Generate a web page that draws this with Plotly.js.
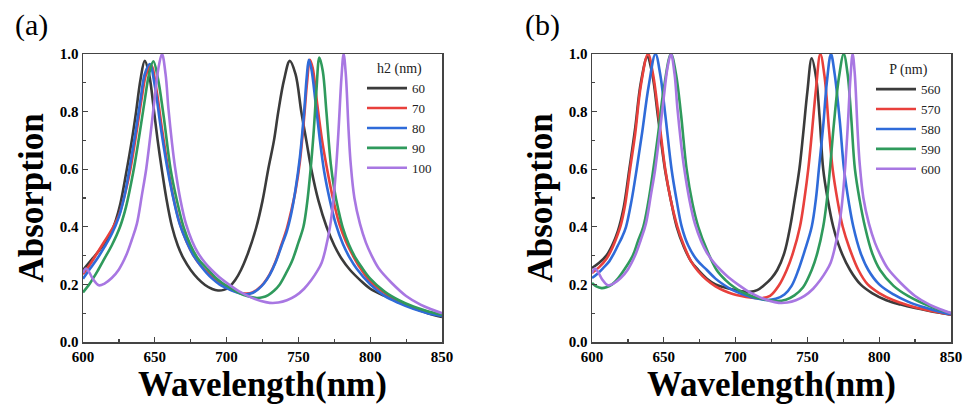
<!DOCTYPE html>
<html>
<head>
<meta charset="utf-8">
<script src="https://cdn.plot.ly/plotly-3.0.1.min.js"></script>
<style>html,body{margin:0;padding:0;background:#fff;}#chart{width:967px;height:408px;}</style>
</head>
<body>
<div id="chart"></div>
<script>
// ---------- Panel (a): h2 (nm) ----------
const seriesNamesA = ['60', '70', '80', '90', '100'];
const wlA60 = [600,605,610,615,620,623,626,630,634,637,640,643,646,649.5,652,655,658,662,666,670,675,680,685,690,694,698,702,706,710,715,720.5,725,729,733,736,740,744,748,752,755.5,759,764,769.6,775,780,786,793,800,810,820,830,840,850];
const absA60 = [0.25,0.28,0.31,0.343,0.385,0.425,0.48,0.585,0.70,0.80,0.91,0.976,0.93,0.80,0.70,0.595,0.50,0.40,0.335,0.29,0.25,0.22,0.198,0.184,0.179,0.181,0.192,0.215,0.25,0.31,0.395,0.49,0.60,0.70,0.80,0.91,0.976,0.93,0.80,0.70,0.60,0.49,0.40,0.335,0.29,0.25,0.215,0.185,0.16,0.138,0.118,0.10,0.087];
const wlA70 = [600,605,610,615,620,625,630,633,637,641,644,647.5,651,655,659,663,667.5,672,677,682,686,690,695,700,705,710,714,718,722,726,730,734,738,742,745,748,751,754,756,758,760,763,766.5,770,774,778.5,783,788,792,800,810,820,830,840,850];
const absA70 = [0.235,0.27,0.31,0.35,0.39,0.44,0.53,0.60,0.72,0.85,0.93,0.96,0.88,0.74,0.61,0.50,0.41,0.35,0.30,0.265,0.245,0.225,0.205,0.19,0.178,0.17,0.168,0.172,0.185,0.205,0.235,0.278,0.335,0.395,0.455,0.525,0.625,0.78,0.90,0.98,0.95,0.83,0.70,0.60,0.50,0.41,0.35,0.30,0.265,0.21,0.17,0.14,0.12,0.105,0.092];
const wlA80 = [600,605,610,615,620,625,629,632.3,636,640,643,646.5,650,654,658.5,662,667,672,677,682,686,690,695,700,705,710,714,718,722,726,730,734,738,742,745,748,751,754,755.8,757.3,759,762,765,768,772,776,781,786,790.5,800,810,820,830,840,850];
const absA80 = [0.22,0.255,0.29,0.33,0.375,0.435,0.51,0.60,0.71,0.84,0.93,0.965,0.89,0.75,0.61,0.52,0.415,0.35,0.30,0.265,0.24,0.22,0.20,0.187,0.176,0.168,0.166,0.17,0.183,0.203,0.233,0.275,0.33,0.385,0.445,0.53,0.64,0.80,0.92,0.98,0.95,0.83,0.70,0.59,0.49,0.41,0.34,0.29,0.255,0.20,0.16,0.135,0.115,0.10,0.09];
const wlA90 = [600,605,610,615,620,625.8,630,635,639,643,646,649,652,656,661,665,670,675,680,687.3,692,697,702,707,712,717,721,725,729,733,737,741,745.5,750,753.5,756,758.5,760.5,762.5,764.6,767,769.5,772.5,775,778,781,785,790,794,800,810,820,830,840,850];
const absA90 = [0.172,0.205,0.245,0.29,0.335,0.40,0.47,0.59,0.71,0.84,0.93,0.975,0.92,0.79,0.60,0.50,0.40,0.335,0.29,0.25,0.225,0.205,0.19,0.175,0.163,0.156,0.153,0.155,0.163,0.178,0.20,0.235,0.28,0.345,0.40,0.48,0.60,0.72,0.87,0.988,0.94,0.80,0.62,0.53,0.455,0.395,0.34,0.29,0.26,0.22,0.175,0.145,0.123,0.107,0.095];
const wlA100 = [600,602,604,607,611,615,620,625,630,634,637.5,641,644,647,650,652.5,655,657.5,659.5,662,664,668,671.7,676,680,685,689.6,695,703,710,717,724,730,736,742,748,754,759,763,766.2,769,772,774,776.2,778,780,781.5,783,785,786.4,789,792.9,797,801,806,815,825,835,843,850];
const absA100 = [0.24,0.255,0.245,0.218,0.197,0.203,0.222,0.252,0.30,0.355,0.41,0.51,0.60,0.72,0.85,0.95,1.0,0.93,0.81,0.69,0.61,0.49,0.41,0.35,0.31,0.275,0.25,0.225,0.195,0.172,0.155,0.142,0.136,0.137,0.145,0.16,0.185,0.215,0.245,0.275,0.325,0.40,0.475,0.60,0.74,0.92,1.0,0.93,0.73,0.62,0.50,0.41,0.345,0.30,0.255,0.205,0.16,0.13,0.113,0.10];

// ---------- Panel (b): P (nm) ----------
const seriesNamesB = ['560', '570', '580', '590', '600'];
const wlB560 = [600,605,610,614,618,622,626,630,634,638.5,642,646,650.8,655,659,664,669,674,680,686,692,698,704,710,715,720,725,729,734,738,741,744.4,747,750,753,756,758.5,761,764,768,773,779.7,787,795,805,815,825,835,843,850];
const absB560 = [0.257,0.275,0.30,0.335,0.385,0.465,0.60,0.74,0.90,0.99,0.93,0.78,0.60,0.49,0.40,0.33,0.28,0.25,0.22,0.20,0.19,0.182,0.176,0.174,0.18,0.198,0.222,0.25,0.31,0.40,0.49,0.60,0.72,0.87,0.985,0.92,0.78,0.60,0.50,0.40,0.32,0.25,0.20,0.17,0.145,0.13,0.118,0.108,0.101,0.095];
const wlB570 = [600,605,610,614,618,620,623,626.5,630,634,639,642.5,646.5,651,655,659.5,664,669,674,680,686,692,698,704,710,718,724,730,735.6,740,744.8,748,750.6,753,756,759,762,765,767.6,771,774.6,779,785.5,792,800,810,820,830,840,850];
const absB570 = [0.24,0.26,0.288,0.325,0.375,0.405,0.475,0.60,0.72,0.89,1.0,0.93,0.78,0.60,0.49,0.40,0.335,0.28,0.245,0.215,0.193,0.178,0.167,0.16,0.155,0.152,0.16,0.195,0.25,0.31,0.40,0.50,0.60,0.72,0.88,1.0,0.92,0.74,0.60,0.49,0.40,0.33,0.25,0.20,0.17,0.145,0.128,0.115,0.104,0.095];
const wlB580 = [600,604,608,612,615,618,621,623.7,627.5,631.1,635,639.5,644.2,647.5,651,655.4,659,662.5,667,673,680,686,692,698,704,710,716,722,728,734,739,743.7,748,753,756,758,761,763.5,766.4,769,772.5,775.5,779,782,787,792.4,800,810,820,830,840,850];
const absB580 = [0.222,0.238,0.258,0.28,0.305,0.335,0.365,0.40,0.49,0.60,0.73,0.89,1.0,0.93,0.79,0.60,0.49,0.40,0.335,0.285,0.25,0.22,0.198,0.18,0.167,0.157,0.15,0.146,0.15,0.165,0.195,0.25,0.315,0.40,0.50,0.60,0.75,0.90,1.0,0.93,0.77,0.60,0.48,0.40,0.31,0.25,0.20,0.165,0.14,0.122,0.108,0.096];
const wlB590 = [600,603,606.7,610,614,618,623,628.4,632,635.7,639,642.7,646,650,655,658.5,662,665.9,670,674,680,686.8,693,699,705,711,717,723,729,735,741,747,753,757,761,763.5,765.7,768.5,772,775.3,778,780.5,783.1,786.5,790.1,795,800.6,810,820,830,840,850];
const absB590 = [0.205,0.193,0.187,0.19,0.20,0.22,0.255,0.30,0.35,0.40,0.48,0.60,0.72,0.88,1.0,0.93,0.79,0.60,0.48,0.40,0.32,0.25,0.215,0.19,0.172,0.16,0.151,0.145,0.142,0.147,0.162,0.19,0.25,0.31,0.40,0.49,0.60,0.76,0.92,1.0,0.93,0.78,0.60,0.49,0.40,0.31,0.25,0.195,0.16,0.135,0.115,0.10];
const wlB600 = [600,602,604,607,611,615,620,625,630,634,637.5,641,644,647,650,652.5,655,657.5,659.5,662,664,668,671.7,676,680,685,689.6,695,703,710,717,724,730,736,742,748,754,759,763,766.2,769,772,774,776.2,778,780,781.5,783,785,786.4,789,792.9,797,801,806,815,825,835,843,850];
const absB600 = [0.24,0.255,0.245,0.218,0.197,0.203,0.222,0.252,0.30,0.355,0.41,0.51,0.60,0.72,0.85,0.95,1.0,0.93,0.81,0.69,0.61,0.49,0.41,0.35,0.31,0.275,0.25,0.225,0.195,0.172,0.155,0.142,0.136,0.137,0.145,0.16,0.185,0.215,0.245,0.275,0.325,0.40,0.475,0.60,0.74,0.92,1.0,0.93,0.73,0.62,0.50,0.41,0.345,0.30,0.255,0.205,0.16,0.13,0.113,0.10];

const lineColors = ['#3b3b3b', '#e8403c', '#2f6bd9', '#2f9a5c', '#a877e2'];
const xTickVals = [600, 650, 700, 750, 800, 850];
const yTickVals = [0.0, 0.2, 0.4, 0.6, 0.8, 1.0];

const serif = 'Liberation Serif';
const dataA = [[wlA60, absA60], [wlA70, absA70], [wlA80, absA80], [wlA90, absA90], [wlA100, absA100]];
const dataB = [[wlB560, absB560], [wlB570, absB570], [wlB580, absB580], [wlB590, absB590], [wlB600, absB600]];

const traces = [];
dataA.forEach((d, i) => traces.push({
  x: d[0], y: d[1], name: seriesNamesA[i], type: 'scatter', mode: 'lines',
  line: {color: lineColors[i], width: 2.6, shape: 'spline', smoothing: 1},
  xaxis: 'x', yaxis: 'y', legend: 'legend'
}));
dataB.forEach((d, i) => traces.push({
  x: d[0], y: d[1], name: seriesNamesB[i], type: 'scatter', mode: 'lines',
  line: {color: lineColors[i], width: 2.6, shape: 'spline', smoothing: 1},
  xaxis: 'x2', yaxis: 'y2', legend: 'legend2'
}));

function xAxis(domain, anchor) {
  return {
    domain: domain, anchor: anchor, range: [600, 850],
    tickvals: xTickVals, ticks: 'inside', ticklen: 5, tickwidth: 1.2, tickcolor: '#444',
    minor: {ticks: 'inside', dtick: 25, tick0: 600, ticklen: 3, tickwidth: 1.2, tickcolor: '#444'},
    showline: true, mirror: true, linecolor: '#444', linewidth: 1.5,
    showgrid: false, zeroline: false,
    tickfont: {family: serif, size: 15, weight: 'bold', color: '#000'},
    title: {text: 'Wavelength(nm)', font: {family: serif, size: 35, weight: 'bold', color: '#000'}, standoff: 4}
  };
}
function yAxis(domain, anchor) {
  return {
    domain: domain, anchor: anchor, range: [0, 1],
    tickvals: yTickVals, tickformat: '.1f', ticks: 'inside', ticklen: 5, tickwidth: 1.2, tickcolor: '#444',
    minor: {ticks: 'inside', dtick: 0.1, tick0: 0, ticklen: 3, tickwidth: 1.2, tickcolor: '#444'},
    showline: true, mirror: true, linecolor: '#444', linewidth: 1.5,
    showgrid: false, zeroline: false,
    tickfont: {family: serif, size: 15, weight: 'bold', color: '#000'},
    title: {text: 'Absorption', font: {family: serif, size: 35, weight: 'bold', color: '#000'}, standoff: 5}
  };
}
function legendBox(x, y, titleText) {
  return {
    x: x, y: y, xanchor: 'left', yanchor: 'top', bgcolor: 'rgba(0,0,0,0)', borderwidth: 0,
    font: {family: serif, size: 13, color: '#222'}, itemwidth: 40,
    title: {text: titleText, side: 'top center', font: {family: serif, size: 14, color: '#222'}},
    tracegroupgap: 0
  };
}

const layout = {
  width: 967, height: 408,
  margin: {l: 0, r: 0, t: 0, b: 0},
  paper_bgcolor: '#fff', plot_bgcolor: '#fff',
  showlegend: true,
  xaxis: xAxis([83/967, 442/967], 'y'),
  yaxis: yAxis([66/408, 354/408], 'x'),
  xaxis2: xAxis([592/967, 951/967], 'y2'),
  yaxis2: yAxis([66/408, 354/408], 'x2'),
  legend: legendBox(362/967, 1 - 55/408, 'h2 (nm)'),
  legend2: legendBox(871/967, 1 - 56/408, 'P (nm)'),
  annotations: [
    {text: '(a)', xref: 'paper', yref: 'paper', x: 13/967, y: 1 - 25/408, xanchor: 'left', yanchor: 'middle', showarrow: false, font: {family: serif, size: 30, color: '#000'}},
    {text: '(b)', xref: 'paper', yref: 'paper', x: 523/967, y: 1 - 25/408, xanchor: 'left', yanchor: 'middle', showarrow: false, font: {family: serif, size: 30, color: '#000'}}
  ]
};

Plotly.newPlot('chart', traces, layout, {displayModeBar: false, staticPlot: true});
</script>
</body>
</html>
